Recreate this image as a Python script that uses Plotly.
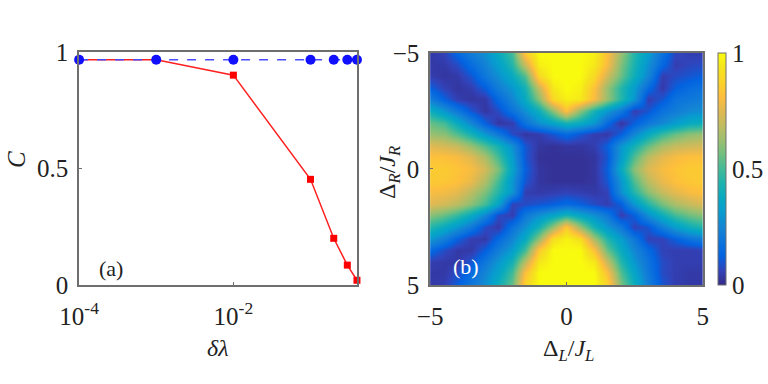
import math
import plotly.graph_objects as go

# ---------------- data: panel (a) ----------------
dlambda = [1e-4, 1e-3, 1e-2, 0.1, 0.2, 0.3, 0.4]
C_red = [0.966, 0.966, 0.90, 0.453, 0.20, 0.085, 0.02]
C_blue = [0.966, 0.966, 0.966, 0.966, 0.966, 0.966, 0.966]
xa_tickvals = [1e-4, 1e-2]
xa_ticktext = ["10<sup>-4</sup>", "10<sup>-2</sup>"]
ya_tickvals = [0, 0.5, 1]
ya_ticktext = ["0", "0.5", "1"]

# ---------------- data: panel (b) ----------------
dL = [-5, -4.5, -4, -3.5, -3, -2.5, -2, -1.5, -1, -0.5, 0, 0.5, 1, 1.5, 2, 2.5, 3, 3.5, 4, 4.5, 5]
dR = [-5, -4.5, -4, -3.5, -3, -2.5, -2, -1.5, -1, -0.5, 0, 0.5, 1, 1.5, 2, 2.5, 3, 3.5, 4, 4.5, 5]
C_map = [
    [0.04,0.06,0.14,0.22,0.28,0.38,0.50,0.85,1.00,1.00,1.00,1.00,0.97,0.82,0.62,0.45,0.32,0.18,0.07,0.05,0.05],
    [0.04,0.04,0.08,0.16,0.24,0.33,0.45,0.70,0.97,1.00,1.00,1.00,0.95,0.80,0.58,0.43,0.28,0.14,0.05,0.07,0.08],
    [0.05,0.03,0.04,0.10,0.20,0.28,0.38,0.52,0.90,1.00,1.00,1.00,0.90,0.72,0.55,0.40,0.25,0.05,0.08,0.10,0.12],
    [0.12,0.06,0.03,0.05,0.12,0.22,0.30,0.42,0.70,0.95,1.00,0.97,0.82,0.62,0.45,0.32,0.15,0.04,0.12,0.16,0.18],
    [0.22,0.12,0.05,0.03,0.04,0.15,0.25,0.38,0.60,0.90,0.97,0.95,0.80,0.62,0.45,0.30,0.05,0.10,0.18,0.20,0.22],
    [0.40,0.30,0.20,0.10,0.03,0.08,0.18,0.28,0.40,0.60,0.82,0.60,0.42,0.30,0.20,0.05,0.10,0.18,0.22,0.26,0.28],
    [0.55,0.50,0.38,0.25,0.12,0.03,0.05,0.18,0.28,0.35,0.42,0.38,0.30,0.15,0.03,0.12,0.20,0.26,0.32,0.38,0.40],
    [0.62,0.60,0.52,0.42,0.30,0.20,0.08,0.03,0.05,0.10,0.15,0.10,0.05,0.04,0.12,0.25,0.38,0.48,0.55,0.60,0.62],
    [0.75,0.73,0.70,0.62,0.52,0.42,0.28,0.10,0.03,0.02,0.03,0.03,0.05,0.12,0.30,0.42,0.55,0.65,0.70,0.72,0.73],
    [0.82,0.82,0.80,0.75,0.65,0.50,0.32,0.10,0.02,0.02,0.02,0.02,0.03,0.10,0.32,0.52,0.68,0.76,0.80,0.82,0.82],
    [0.85,0.85,0.83,0.80,0.72,0.58,0.35,0.12,0.03,0.02,0.02,0.02,0.03,0.12,0.38,0.60,0.74,0.80,0.83,0.85,0.85],
    [0.85,0.84,0.82,0.77,0.66,0.50,0.30,0.10,0.03,0.02,0.02,0.02,0.03,0.10,0.30,0.52,0.68,0.77,0.82,0.84,0.85],
    [0.80,0.79,0.76,0.68,0.58,0.45,0.30,0.05,0.04,0.05,0.06,0.05,0.04,0.06,0.28,0.45,0.60,0.70,0.76,0.80,0.82],
    [0.75,0.72,0.68,0.60,0.50,0.35,0.06,0.08,0.10,0.12,0.15,0.12,0.08,0.05,0.12,0.30,0.45,0.57,0.65,0.70,0.74],
    [0.60,0.55,0.48,0.38,0.25,0.08,0.05,0.20,0.28,0.35,0.42,0.35,0.28,0.20,0.05,0.12,0.28,0.40,0.50,0.56,0.60],
    [0.45,0.38,0.30,0.20,0.08,0.04,0.18,0.28,0.42,0.62,0.85,0.62,0.42,0.30,0.20,0.06,0.10,0.22,0.32,0.40,0.45],
    [0.30,0.22,0.12,0.05,0.04,0.15,0.25,0.38,0.62,0.92,0.98,0.92,0.65,0.45,0.32,0.20,0.06,0.06,0.12,0.18,0.22],
    [0.15,0.08,0.04,0.04,0.12,0.22,0.32,0.50,0.85,1.00,1.00,1.00,0.82,0.55,0.38,0.25,0.15,0.06,0.05,0.05,0.06],
    [0.05,0.04,0.04,0.10,0.20,0.30,0.42,0.68,0.95,1.00,1.00,1.00,0.95,0.70,0.45,0.30,0.18,0.08,0.05,0.05,0.05],
    [0.04,0.04,0.08,0.16,0.25,0.35,0.50,0.82,1.00,1.00,1.00,1.00,1.00,0.82,0.52,0.35,0.20,0.08,0.05,0.04,0.04],
    [0.04,0.05,0.12,0.20,0.28,0.40,0.55,0.88,1.00,1.00,1.00,1.00,1.00,0.88,0.58,0.40,0.22,0.10,0.05,0.04,0.04],
]
xb_tickvals = [-5, 0, 5]
yb_tickvals = [-5, 0, 5]
cb_tickvals = [0, 0.5, 1]
cb_ticktext = ["0", "0.5", "1"]

# parula-like colour map
parula = [
    (0.2081, 0.1663, 0.5292), (0.1959, 0.2645, 0.7279), (0.0117, 0.3875, 0.8820),
    (0.0498, 0.4586, 0.8641), (0.0793, 0.5200, 0.8312), (0.0265, 0.6137, 0.8135),
    (0.0267, 0.6642, 0.7607), (0.1133, 0.7015, 0.6859), (0.2586, 0.7317, 0.5954),
    (0.4420, 0.7481, 0.5033), (0.6099, 0.7473, 0.4337), (0.7525, 0.7384, 0.3768),
    (0.8825, 0.7274, 0.3217), (0.9939, 0.7455, 0.2404), (0.9789, 0.8271, 0.1633),
    (0.9589, 0.8949, 0.1132), (0.9763, 0.9831, 0.0538),
]
n = len(parula)
colorscale = [[i / (n - 1), "rgb(%d,%d,%d)" % tuple(round(255 * c) for c in col)]
              for i, col in enumerate(parula)]

SERIF = "Liberation Serif"
FS = 25
AXC = "#6e6e6e"
TXT = "#222222"

fig = go.Figure()

fig.add_trace(go.Scatter(
    x=dlambda, y=C_red, mode="lines+markers", xaxis="x", yaxis="y",
    line=dict(color="#ff2020", width=1.5),
    marker=dict(symbol="square", size=7, color="#ff0000"),
    cliponaxis=False, showlegend=False))
fig.add_trace(go.Scatter(
    x=dlambda, y=C_blue, mode="lines+markers", xaxis="x", yaxis="y",
    line=dict(color="#4a4aff", width=1.5, dash="dash"),
    marker=dict(symbol="circle", size=10, color="#1010ff"),
    cliponaxis=False, showlegend=False))

fig.add_trace(go.Heatmap(
    x=dL, y=dR, z=C_map, xaxis="x2", yaxis="y2",
    zmin=0, zmax=1, zsmooth="best", colorscale=colorscale,
    colorbar=dict(x=0.935, xanchor="left", y=0.258, yanchor="bottom",
                  len=0.604, lenmode="fraction", thickness=8, xpad=0, ypad=0,
                  outlinewidth=1, outlinecolor=AXC,
                  tickvals=cb_tickvals, ticktext=cb_ticktext, ticks="",
                  tickfont=dict(family=SERIF, size=FS, color=TXT)),
))

axis_common = dict(showgrid=False, zeroline=False, showline=True, mirror=True,
                   linecolor=AXC, linewidth=1.5, ticks="inside", ticklen=3,
                   tickcolor=AXC, automargin=False,
                   tickfont=dict(family=SERIF, size=FS, color=TXT))


def label(text, px, py, size=FS, color=TXT, angle=0):
    return dict(text=text, x=px / 768, y=1 - py / 384, xref="paper", yref="paper",
                xanchor="center", yanchor="middle", showarrow=False, textangle=angle,
                font=dict(family=SERIF, size=size, color=color))


fig.update_layout(
    width=768, height=384,
    margin=dict(l=0, r=0, t=0, b=0, autoexpand=False),
    paper_bgcolor="white", plot_bgcolor="white",
    xaxis=dict(domain=[0.103, 0.465], type="log",
               range=[-4, math.log10(0.4) + 0.002], tickvals=xa_tickvals, ticktext=xa_ticktext,
               anchor="y", ticklabelstandoff=8, **axis_common),
    yaxis=dict(domain=[0.258, 0.865], range=[0, 1], tickvals=ya_tickvals,
               ticktext=ya_ticktext, anchor="x", ticklabelstandoff=4, **axis_common),
    xaxis2=dict(domain=[0.560, 0.915], range=[-5, 5], tickvals=xb_tickvals, anchor="y2",
                ticklabelstandoff=8, **axis_common),
    yaxis2=dict(domain=[0.258, 0.862], range=[5, -5], tickvals=yb_tickvals, anchor="x2",
                ticklabelstandoff=4, **axis_common),
    annotations=[
        label("<i>δλ</i>", 218, 348, size=24),
        label("<i>C</i>", 16, 160, angle=-90),
        label("Δ<sub><i>L</i></sub>/<i>J<sub>L</sub></i>", 568, 350, size=24),
        label("Δ<sub><i>R</i></sub>/<i>J<sub>R</sub></i>", 389, 173, size=24, angle=-90),
        label("(a)", 111, 268, size=22),
        label("(b)", 466, 266, size=22, color="white"),
    ],
)

fig.write_html("out.html", config={"displayModeBar": False},
               post_script="document.body.style.margin='0px';")
